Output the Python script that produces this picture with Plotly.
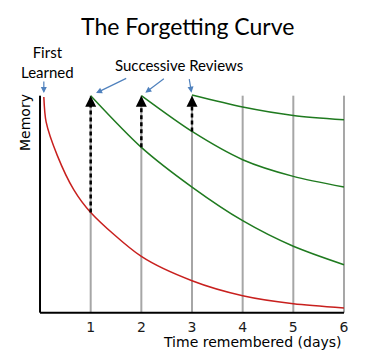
import plotly.graph_objects as go

# ---- data ----
days = [1, 2, 3, 4, 5, 6]
tick_labels = ["1", "2", "3", "4", "5", "6"]

red_x = [0.075, 0.12, 0.34, 0.665, 1.0, 2.0, 3.0, 4.0, 5.0, 6.0]
red_y = [99.4, 87.9, 72.5, 56.7, 46.2, 25.9, 14.7, 7.8, 4.1, 2.2]

g1_x = [1, 2, 3, 4, 5, 6]
g1_y = [100, 76.2, 57.9, 42.4, 30.6, 22.1]

g2_x = [2, 3, 4, 5, 6]
g2_y = [100, 83.5, 70.5, 62.8, 57.9]

g3_x = [3, 4, 5, 6]
g3_y = [100.3, 94.8, 90.9, 88.9]

review_days = [1, 2, 3]
review_from = [46.2, 76.2, 83.5]   # memory just before each review
review_to = [100, 100, 100]        # memory restored by review

RED = "#c8201e"
GREEN = "#1f7a1f"
BLUE = "#4f81bd"
GRID = "#a6a6a6"
CAL = "Lato, 'Open Sans', sans-serif"
DJ = "DejaVu Sans, sans-serif"

fig = go.Figure()

fig.add_trace(go.Scatter(x=red_x, y=red_y, mode="lines",
                         line=dict(color=RED, width=1.5, shape="spline", smoothing=0.8)))
for gx, gy in [(g1_x, g1_y), (g2_x, g2_y), (g3_x, g3_y)]:
    fig.add_trace(go.Scatter(x=gx, y=gy, mode="lines",
                             line=dict(color=GREEN, width=1.5, shape="spline", smoothing=0.8)))

annotations = []

# dashed review arrows
for d, lo, hi in zip(review_days, review_from, review_to):
    fig.add_trace(go.Scatter(x=[d, d], y=[lo, hi - 2], mode="lines",
                             line=dict(color="black", width=2.5, dash="4px,3px")))
    annotations.append(dict(x=d, y=hi, ax=0, ay=9, xref="x", yref="y", text="",
                            showarrow=True, arrowhead=2, arrowsize=1.0, arrowwidth=2.2,
                            arrowcolor="black"))

shapes = []
# gridlines
for d in days:
    shapes.append(dict(type="line", x0=d, x1=d, y0=0, y1=100, xref="x", yref="y",
                       line=dict(color=GRID, width=2), layer="below"))
# axis lines
shapes.append(dict(type="line", x0=0, x1=0, y0=0, y1=100, xref="x", yref="y",
                   line=dict(color="black", width=2)))
shapes.append(dict(type="line", x0=0, x1=6, y0=0, y1=0, xref="x", yref="y",
                   line=dict(color="black", width=2)))

annotations += [
    dict(text="The Forgetting Curve", x=0.5, y=1, xref="paper", yref="paper",
         xanchor="center", yanchor="middle", yshift=61, xshift=-5, showarrow=False,
         font=dict(family=CAL, size=23, color="black")),
    dict(text="First<br>Learned", x=0.0, y=1, xref="paper", yref="paper",
         xanchor="center", yanchor="middle", xshift=9, yshift=25, showarrow=False,
         font=dict(family=CAL, size=15, color="black")),
    dict(text="Successive Reviews", x=0.5, y=1, xref="paper", yref="paper",
         xanchor="center", yanchor="middle", xshift=-13, yshift=22, showarrow=False,
         font=dict(family=CAL, size=15, color="black")),
    dict(text="Memory", x=0, y=87.4, xref="paper", yref="y", xanchor="center",
         yanchor="middle", textangle=-90, xshift=-13, showarrow=False,
         font=dict(family=DJ, size=14, color="black")),
    dict(text="Time remembered (days)", x=6, y=0, xref="x", yref="y",
         xanchor="right", yanchor="middle", yshift=-29, xshift=0, showarrow=False,
         font=dict(family=DJ, size=14, color="black")),
]
# blue pointer arrows
for x, y, ax, ay, so in [(red_x[0], red_y[0], 0, -17, 4),
                         (1, 100, 37, -18, 6),
                         (2, 100, 24, -18, 5),
                         (3, 100, -3, -18, 3)]:
    annotations.append(dict(x=x, y=y, ax=ax, ay=ay, xref="x", yref="y", text="",
                            showarrow=True, arrowhead=2, arrowsize=1, arrowwidth=1.2,
                            arrowcolor=BLUE, standoff=so))

fig.update_layout(
    width=370, height=353,
    margin=dict(l=38, r=24, t=87, b=36),
    paper_bgcolor="white", plot_bgcolor="white",
    showlegend=False,
    shapes=shapes,
    annotations=annotations,
    xaxis=dict(range=[-0.04, 6.04], tickvals=days, ticktext=tick_labels,
               showgrid=False, zeroline=False, showline=False, ticks="",
               tickfont=dict(family=DJ, size=14, color="#1a1a1a")),
    yaxis=dict(range=[-2, 104], showgrid=False, zeroline=False, showline=False,
               showticklabels=False, ticks=""),
)

fig.write_html("out.html")
